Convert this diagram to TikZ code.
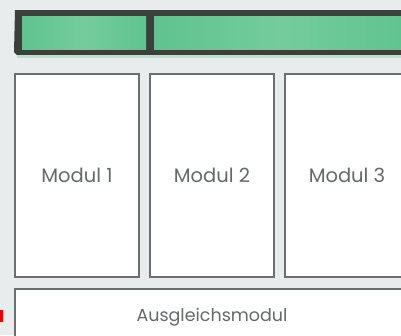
\documentclass[tikz,border=0pt]{standalone}
\usepackage{fontspec}
\setmainfont{Poppins}
\definecolor{bggray}{HTML}{E8ECEC}
\definecolor{framegray}{HTML}{6B6F70}
\definecolor{textgray}{HTML}{66696B}
\definecolor{bardark}{HTML}{3B403D}
\definecolor{bargreen}{HTML}{5FC38F}
\definecolor{barlight}{HTML}{74CC9C}
\tikzset{
  modbox/.style={draw=framegray, line width=2pt, fill=white, inner sep=0pt,
    text=textgray, font=\fontsize{19.5}{22}\selectfont},
  greenpart/.style={left color=bargreen, right color=bargreen, middle color=barlight}
}
\begin{document}
\begin{tikzpicture}[x=1pt, y=-1pt]
    % background
    \fill[bggray] (0, 0) rectangle (401, 335);
    \useasboundingbox (0, 0) rectangle (401, 335);
    % green bar on top
    \fill[bardark] (15, 10) -- (410, 10) -- (410, 55) -- (17, 55) -- (14, 52) -- cycle;
    \fill[greenpart] (22, 16) rectangle (146, 49);
    \fill[greenpart] (154, 16) rectangle (410, 49);
    \fill[bggray!70!bargreen] (17, 55) rectangle (410, 58);
    % modules
    \node[modbox, minimum width=124pt, minimum height=203pt] (mod1) at (77, 175.5) {Modul 1};
    \node[modbox, minimum width=124pt, minimum height=203pt] (mod2) at (212, 175.5) {Modul 2};
    \node[modbox, minimum width=124pt, minimum height=203pt] (mod3) at (347, 175.5) {Modul 3};
    % compensation module
    \node[modbox, minimum width=394pt, minimum height=52pt] (ausgl) at (212, 315) {};
    \node[text=textgray, font=\fontsize{17.5}{20}\selectfont] (ausgltext) at (212, 317) {Ausgleichsmodul};
    % red mark
    \fill[red!90!black] (0, 310) rectangle (3, 322);
\end{tikzpicture}
\end{document}
